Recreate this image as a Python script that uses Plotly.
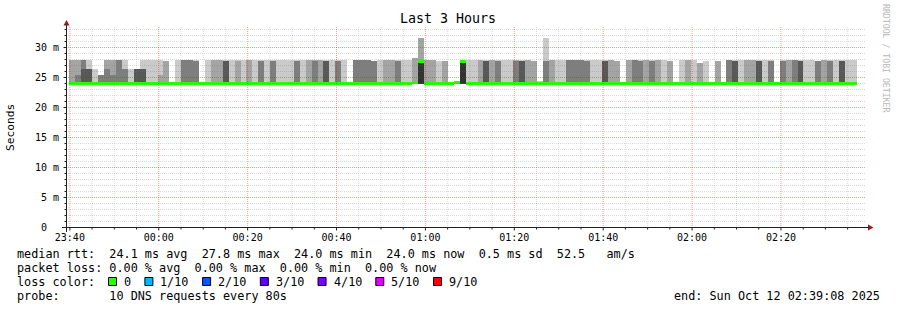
import plotly.graph_objects as go
import pandas as pd

# ---------------- data ----------------
view_start = "2025-10-11 23:39:08"
view_end = "2025-10-12 02:39:08"
first_step = "2025-10-11 23:39:44"
step_seconds = 80

# smoke layer tops (ms) per 80 s step; layer 1 (lightest) .. layer 5 (darkest)
smoke_tops = [
    (28, 28), (28, 28, 25.5), (28, 28, 28, 26.5), (28, 26.5, 26.5, 26.5), (26.5,),
    (25.5, 25.5, 25.5), (28, 28, 26.5), (28, 28, 25.5), (28, 28, 28), (28, 26.5, 26.5),
    (26.5,), (26.5, 26.5, 26.5, 26.5), (28, 26.5, 26.5, 26.5), (28,), (28,),
    (28, 25.5), (27.7, 27.7), (), (28,), (28, 28, 28),
    (28, 28, 28), (28, 27.7, 27.7), (), (28,), (28, 28),
    (28, 28), (28, 27.7, 27.7, 27.7), (28,), (28, 27.7), (28,),
    (28, 28), (28,), (28, 27.7, 27.7), (28,), (28, 27.7, 27.7),
    (28,), (28,), (28,), (28, 27.7, 27.7), (28,),
    (28, 28), (28, 28, 27.7), (28, 28), (28, 27.7, 27.7, 27.7), (28,),
    (28, 27.7, 27.7), (28,), (), (28, 28, 28), (28, 28, 28),
    (28, 28, 28), (27.8, 27.8, 27.8), (28,), (28, 28), (28, 28),
    (28, 27.7, 27.7), (28,), (28,), (28.2, 28.2), (31.6, 31.6, 27.7, 27.7, 27.7),
    (28, 28), (28, 28), (27.7,), (27.7, 27.7), (),
    (), (28, 27.7, 27.7, 27.7, 27.7), (28,), (28,), (28, 28),
    (28, 27.7, 27.7, 27.7), (28, 28), (28, 27.7, 27.7), (28,), (28,),
    (28, 28, 27.7), (28, 27.7, 27.7, 27.7), (28, 28), (27.7, 27.7), (24.5,),
    (31.6, 27.7, 27.7), (28, 28), (28,), (28,), (28, 28, 28),
    (28, 28, 28), (28, 28, 28), (28, 27.7, 27.7), (28,), (28,),
    (28, 27.7, 27.7, 27.7), (28, 28), (27.7, 27.7), (), (28, 28),
    (28, 28, 28), (28, 27.7, 27.7), (28, 28), (28, 27.7, 27.7), (28, 28),
    (28,), (27.7, 27.7), (), (28,), (28, 28),
    (28,), (27.5, 27.5), (27.8,), (), (27.8, 27.8),
    (), (28, 28, 28), (28, 27.7, 27.7, 27.7), (28,), (28, 28),
    (28, 28), (28, 27.8, 27.8, 27.8), (28,), (28, 27.7, 27.7), (),
    (28, 27.7, 27.7), (28, 28), (28, 28, 28), (28, 27.7, 27.7, 27.7), (28,),
    (28,), (27.7, 27.7, 27.7), (28, 28), (28, 27.7, 27.7), (28,),
    (28, 27.7, 27.7, 27.7), (28,), (28,),
]
smoke_floor = 23.85
median_ms = [24.0] * 58 + [24.25, 27.65] + [24.0] * 5 + [24.25, 27.65] + [24.0] * 66

layer_colors = ["#cacaca", "#a4a4a4", "#7e7e7e", "#585858", "#323232"]

y_tick_vals = [0, 5, 10, 15, 20, 25, 30]
y_tick_text = ["0\u00a0\u00a0", "5 m", "10 m", "15 m", "20 m", "25 m", "30 m"]
x_tick_labels = ["23:40", "00:00", "00:20", "00:40", "01:00", "01:20", "01:40", "02:00", "02:20"]
x_tick_times = ["2025-10-11 23:40", "2025-10-12 00:00", "2025-10-12 00:20", "2025-10-12 00:40",
                "2025-10-12 01:00", "2025-10-12 01:20", "2025-10-12 01:40", "2025-10-12 02:00",
                "2025-10-12 02:20"]

legend_lines = [
    "median rtt:  24.1 ms avg  27.8 ms max  24.0 ms min  24.0 ms now  0.5 ms sd  52.5   am/s",
    "packet loss: 0.00 % avg  0.00 % max  0.00 % min  0.00 % now",
    "loss color:",
    "probe:       10 DNS requests every 80s",
]
loss_labels = ["0", "1/10", "2/10", "3/10", "4/10", "5/10", "9/10"]
loss_colors = ["#26ff00", "#00b8ff", "#0059ff", "#5e00ff", "#7e00ff", "#dd00ff", "#ff0000"]
end_text = "end: Sun Oct 12 02:39:08 2025"
title_text = "Last 3 Hours"
y_title = "Seconds"
credit = "RRDTOOL / TOBI OETIKER"

# ---------------- figure ----------------
W, H = 897, 310
L, R, T, B = 66, 31, 27, 82
PW, PH = W - L - R, H - T - B
y_lo = -1 / 12
y_hi = PH / 6 + y_lo
MONO = "DejaVu Sans Mono"


def px(xp):
    return (xp - L) / PW


def py(yp):
    return (T + PH - yp) / PH


times = pd.date_range(first_step, periods=len(smoke_tops), freq=f"{step_seconds}s")
centers = times + pd.Timedelta(seconds=step_seconds / 2)
width_ms = step_seconds * 1000

fig = go.Figure()
for k, col in enumerate(layer_colors):
    xs, ys = [], []
    for c, tops in zip(centers, smoke_tops):
        if len(tops) > k and tops[k] > smoke_floor:
            xs.append(c)
            ys.append(tops[k] - smoke_floor)
    fig.add_trace(go.Bar(x=xs, y=ys, base=smoke_floor, width=width_ms,
                         marker=dict(color=col, line=dict(width=0)),
                         hoverinfo="skip", showlegend=False))

band = 0.25
fig.add_trace(go.Bar(x=list(centers), y=[2 * band] * len(median_ms),
                     base=[m - band for m in median_ms], width=width_ms,
                     marker=dict(color=loss_colors[0], line=dict(width=0)),
                     hoverinfo="skip", showlegend=False))

shapes = []
# grid (drawn above the smoke, as rrdtool does)
minor_col = "rgba(120,120,120,0.27)"
major_col = "rgba(255,0,0,0.40)"
for v in range(1, 34):
    major = v % 5 == 0
    shapes.append(dict(type="line", xref="paper", yref="y", x0=0, x1=1, y0=v, y1=v,
                       line=dict(color=major_col if major else minor_col, width=1,
                                 dash="1px,1px"), layer="above"))
grid_times = pd.date_range("2025-10-11 23:40", "2025-10-12 02:35", freq="5min")
major_set = set(pd.to_datetime(x_tick_times))
for t in grid_times:
    major = t in major_set
    shapes.append(dict(type="line", xref="x", yref="paper", x0=t, x1=t, y0=0, y1=1,
                       line=dict(color=major_col if major else minor_col, width=1,
                                 dash="1px,1px"), layer="above"))
    shapes.append(dict(type="line", xref="x", yref="paper", x0=t, x1=t,
                       y0=py(227.5), y1=py(230.5 if major else 229.5),
                       line=dict(color="#202020", width=1), layer="above"))
for v in range(1, 34):
    shapes.append(dict(type="line", xref="paper", yref="y", x0=px(63.5 if v % 5 == 0 else 64.5),
                       x1=px(66.5), y0=v, y1=v, line=dict(color="#202020", width=1), layer="above"))

# axes with arrows
axis_col = "#202020"
arrow_col = "#8e1c1c"
shapes.append(dict(type="line", xref="paper", yref="paper", x0=px(62), x1=px(868),
                   y0=py(227.5), y1=py(227.5), line=dict(color=axis_col, width=1), layer="above"))
shapes.append(dict(type="line", xref="paper", yref="paper", x0=px(66.5), x1=px(66.5),
                   y0=py(232), y1=py(25), line=dict(color=axis_col, width=1), layer="above"))
shapes.append(dict(type="path", xref="paper", yref="paper",
                   path=f"M {px(868)} {py(224.5)} L {px(873.5)} {py(227.5)} L {px(868)} {py(230.5)} Z",
                   fillcolor=arrow_col, line=dict(width=0), layer="above"))
shapes.append(dict(type="path", xref="paper", yref="paper",
                   path=f"M {px(63.5)} {py(25.5)} L {px(66.5)} {py(20)} L {px(69.5)} {py(25.5)} Z",
                   fillcolor=arrow_col, line=dict(width=0), layer="above"))

annotations = []


def text(s, x, y, size, xanchor="left", color="#000000", angle=0):
    annotations.append(dict(text=s.replace(" ", "\u00a0"), x=px(x), y=py(y), xref="paper", yref="paper",
                            xanchor=xanchor, yanchor="middle", showarrow=False, borderpad=0,
                            textangle=angle, font=dict(family=MONO, size=size, color=color)))


FS = 11.8
CW = 0.6021 * FS
text(title_text, 448, 19, 13.3, "center")
text(y_title, 11, 127, 11.2, "center", angle=-90)
text(credit, 886, 59, 8.2, "center", color="#b8b8b8", angle=90)
for i, s in enumerate(legend_lines):
    text(s, 16, 254 + 14 * i, FS)
text(end_text, 881, 296, FS, "right")

bx = 108.0
for lab, col in zip(loss_labels, loss_colors):
    shapes.append(dict(type="rect", xref="paper", yref="paper", x0=px(bx + 0.5), x1=px(bx + 8.5),
                       y0=py(285.5), y1=py(277.5), fillcolor=col,
                       line=dict(color="#000000", width=1)))
    text(lab, bx + 15, 282, FS)
    bx += 15 + len(lab) * CW + 14.3

fig.update_layout(
    width=W, height=H, margin=dict(l=L, r=R, t=T, b=B, pad=0),
    paper_bgcolor="#ffffff", plot_bgcolor="#ffffff",
    barmode="overlay", bargap=0, showlegend=False,
    shapes=shapes, annotations=annotations,
    font=dict(family=MONO, color="#000000"),
    xaxis=dict(type="date", range=[view_start, view_end], showgrid=False, zeroline=False,
               showline=False, ticks="", tickvals=x_tick_times, ticktext=x_tick_labels,
               tickfont=dict(family=MONO, size=10, color="#000000"), ticklabelstandoff=2),
    yaxis=dict(range=[y_lo, y_hi], showgrid=False, zeroline=False, showline=False, ticks="",
               tickvals=y_tick_vals, ticktext=y_tick_text,
               tickfont=dict(family=MONO, size=10, color="#000000"), ticklabelstandoff=6),
)

fig.write_html("out.html")
